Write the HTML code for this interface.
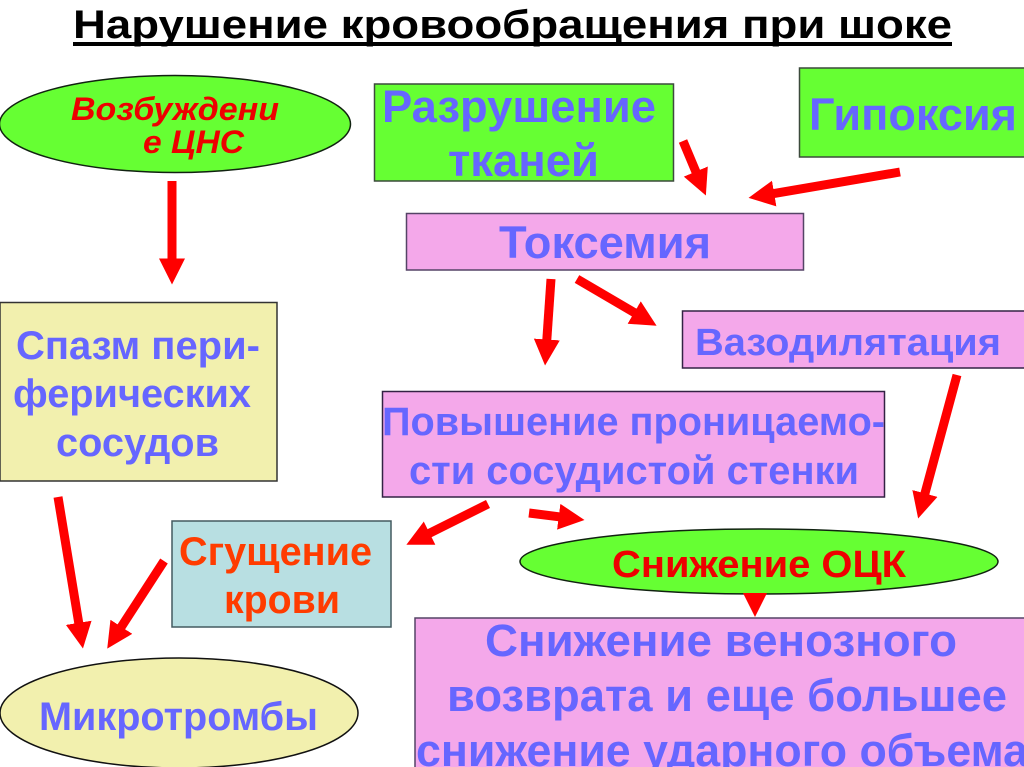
<!DOCTYPE html>
<html lang="ru">
<head>
<meta charset="utf-8">
<title>Нарушение кровообращения при шоке</title>
<style>
html,body{margin:0;padding:0;background:#fff;width:1024px;height:767px;overflow:hidden}
svg{display:block}
text{font-family:"Liberation Sans",sans-serif;font-weight:bold;fill:#6666ff}
</style>
</head>
<body>
<svg width="1024" height="767" viewBox="0 0 1024 767" xmlns="http://www.w3.org/2000/svg">
<defs>
<marker id="h" markerUnits="userSpaceOnUse" markerWidth="28" markerHeight="28" refX="0.5" refY="13" orient="auto">
<polygon points="0,0 26,13 0,26" fill="#ff0000"/>
</marker>
</defs>
<rect width="1024" height="767" fill="#fff"/>

<text x="73" y="38" font-size="40" textLength="879" lengthAdjust="spacingAndGlyphs" style="fill:#000">Нарушение кровообращения при шоке</text>
<rect x="73" y="42" width="879" height="4" fill="#000"/>

<g stroke="#3c4a3c" stroke-width="1.5">
<ellipse cx="175" cy="124" rx="175.5" ry="48.5" fill="#66ff33" stroke="#112211"/>
<rect x="374.5" y="84" width="299" height="97" fill="#66ff33"/>
<rect x="799.5" y="68" width="230" height="89" fill="#66ff33"/>
<rect x="406.5" y="213.5" width="397" height="56.5" fill="#f4a8ea" stroke="#554466"/>
<rect x="682.5" y="311" width="350" height="57" fill="#f4a8ea" stroke="#332244"/>
<rect x="382.5" y="391.5" width="502" height="105.5" fill="#f4a8ea" stroke="#332244"/>
<rect x="0" y="302.5" width="277" height="178.5" fill="#f2f0ae" stroke="#333"/>
<rect x="172" y="521" width="219" height="106" fill="#b8dfe2" stroke="#445a60"/>
<ellipse cx="759" cy="561.5" rx="239" ry="32.5" fill="#66ff33" stroke="#112211"/>
<ellipse cx="179" cy="713" rx="179" ry="55" fill="#f2f0ae" stroke="#111"/>
<rect x="415" y="618" width="620" height="160" fill="#f4a8ea" stroke="#554466"/>
</g>

<polygon points="743,593 767,593 755,617" fill="#ff0000"/>

<g stroke="#ff0000" stroke-width="9" fill="none" marker-end="url(#h)">
<line x1="172" y1="181" x2="172" y2="259"/>
<line x1="683" y1="141" x2="696" y2="172"/>
<line x1="900" y1="172" x2="773.7" y2="193.6"/>
<line x1="551" y1="279" x2="546.8" y2="340"/>
<line x1="577" y1="279" x2="634.6" y2="312.8"/>
<line x1="957" y1="375" x2="924.8" y2="493.9"/>
<line x1="488" y1="504" x2="429.2" y2="533.4"/>
<line x1="529" y1="513" x2="559.2" y2="516.8"/>
<line x1="58" y1="497" x2="78.8" y2="623.3"/>
<line x1="164" y1="561" x2="121.1" y2="627.2"/>
</g>

<g style="font-style:italic">
<text x="71" y="120" font-size="32" textLength="208" lengthAdjust="spacingAndGlyphs" style="fill:#ee0000;font-style:italic">Возбуждени</text>
<text x="143" y="153" font-size="32" textLength="101" lengthAdjust="spacingAndGlyphs" style="fill:#ee0000;font-style:italic">е ЦНС</text>
</g>

<text x="382" y="122" font-size="45" textLength="274" lengthAdjust="spacingAndGlyphs">Разрушение</text>
<text x="448" y="176" font-size="45" textLength="151" lengthAdjust="spacingAndGlyphs">тканей</text>
<text x="809" y="130" font-size="45" textLength="208" lengthAdjust="spacingAndGlyphs">Гипоксия</text>
<text x="499" y="258" font-size="45" textLength="212" lengthAdjust="spacingAndGlyphs">Токсемия</text>
<text x="695" y="355" font-size="38" textLength="306" lengthAdjust="spacingAndGlyphs">Вазодилятация</text>
<text x="382" y="435" font-size="40" textLength="503" lengthAdjust="spacingAndGlyphs">Повышение проницаемо-</text>
<text x="409" y="484" font-size="40" textLength="450" lengthAdjust="spacingAndGlyphs">сти сосудистой стенки</text>
<text x="16" y="359" font-size="40" textLength="244" lengthAdjust="spacingAndGlyphs">Спазм пери-</text>
<text x="13" y="407" font-size="40" textLength="238" lengthAdjust="spacingAndGlyphs">ферических</text>
<text x="56" y="456" font-size="40" textLength="163" lengthAdjust="spacingAndGlyphs">сосудов</text>
<text x="179" y="565" font-size="40" textLength="193" lengthAdjust="spacingAndGlyphs" style="fill:#ff3c00">Сгущение</text>
<text x="224" y="613" font-size="40" textLength="116" lengthAdjust="spacingAndGlyphs" style="fill:#ff3c00">крови</text>
<text x="612" y="577" font-size="38" textLength="294" lengthAdjust="spacingAndGlyphs" style="fill:#ee0000">Снижение ОЦК</text>
<text x="39" y="730" font-size="40" textLength="279" lengthAdjust="spacingAndGlyphs">Микротромбы</text>
<text x="485" y="656" font-size="45" textLength="472" lengthAdjust="spacingAndGlyphs">Снижение венозного</text>
<text x="447" y="711" font-size="45" textLength="560" lengthAdjust="spacingAndGlyphs">возврата и еще большее</text>
<text x="416" y="766" font-size="45" textLength="612" lengthAdjust="spacingAndGlyphs">снижение ударного объема</text>
</svg>
</body>
</html>
